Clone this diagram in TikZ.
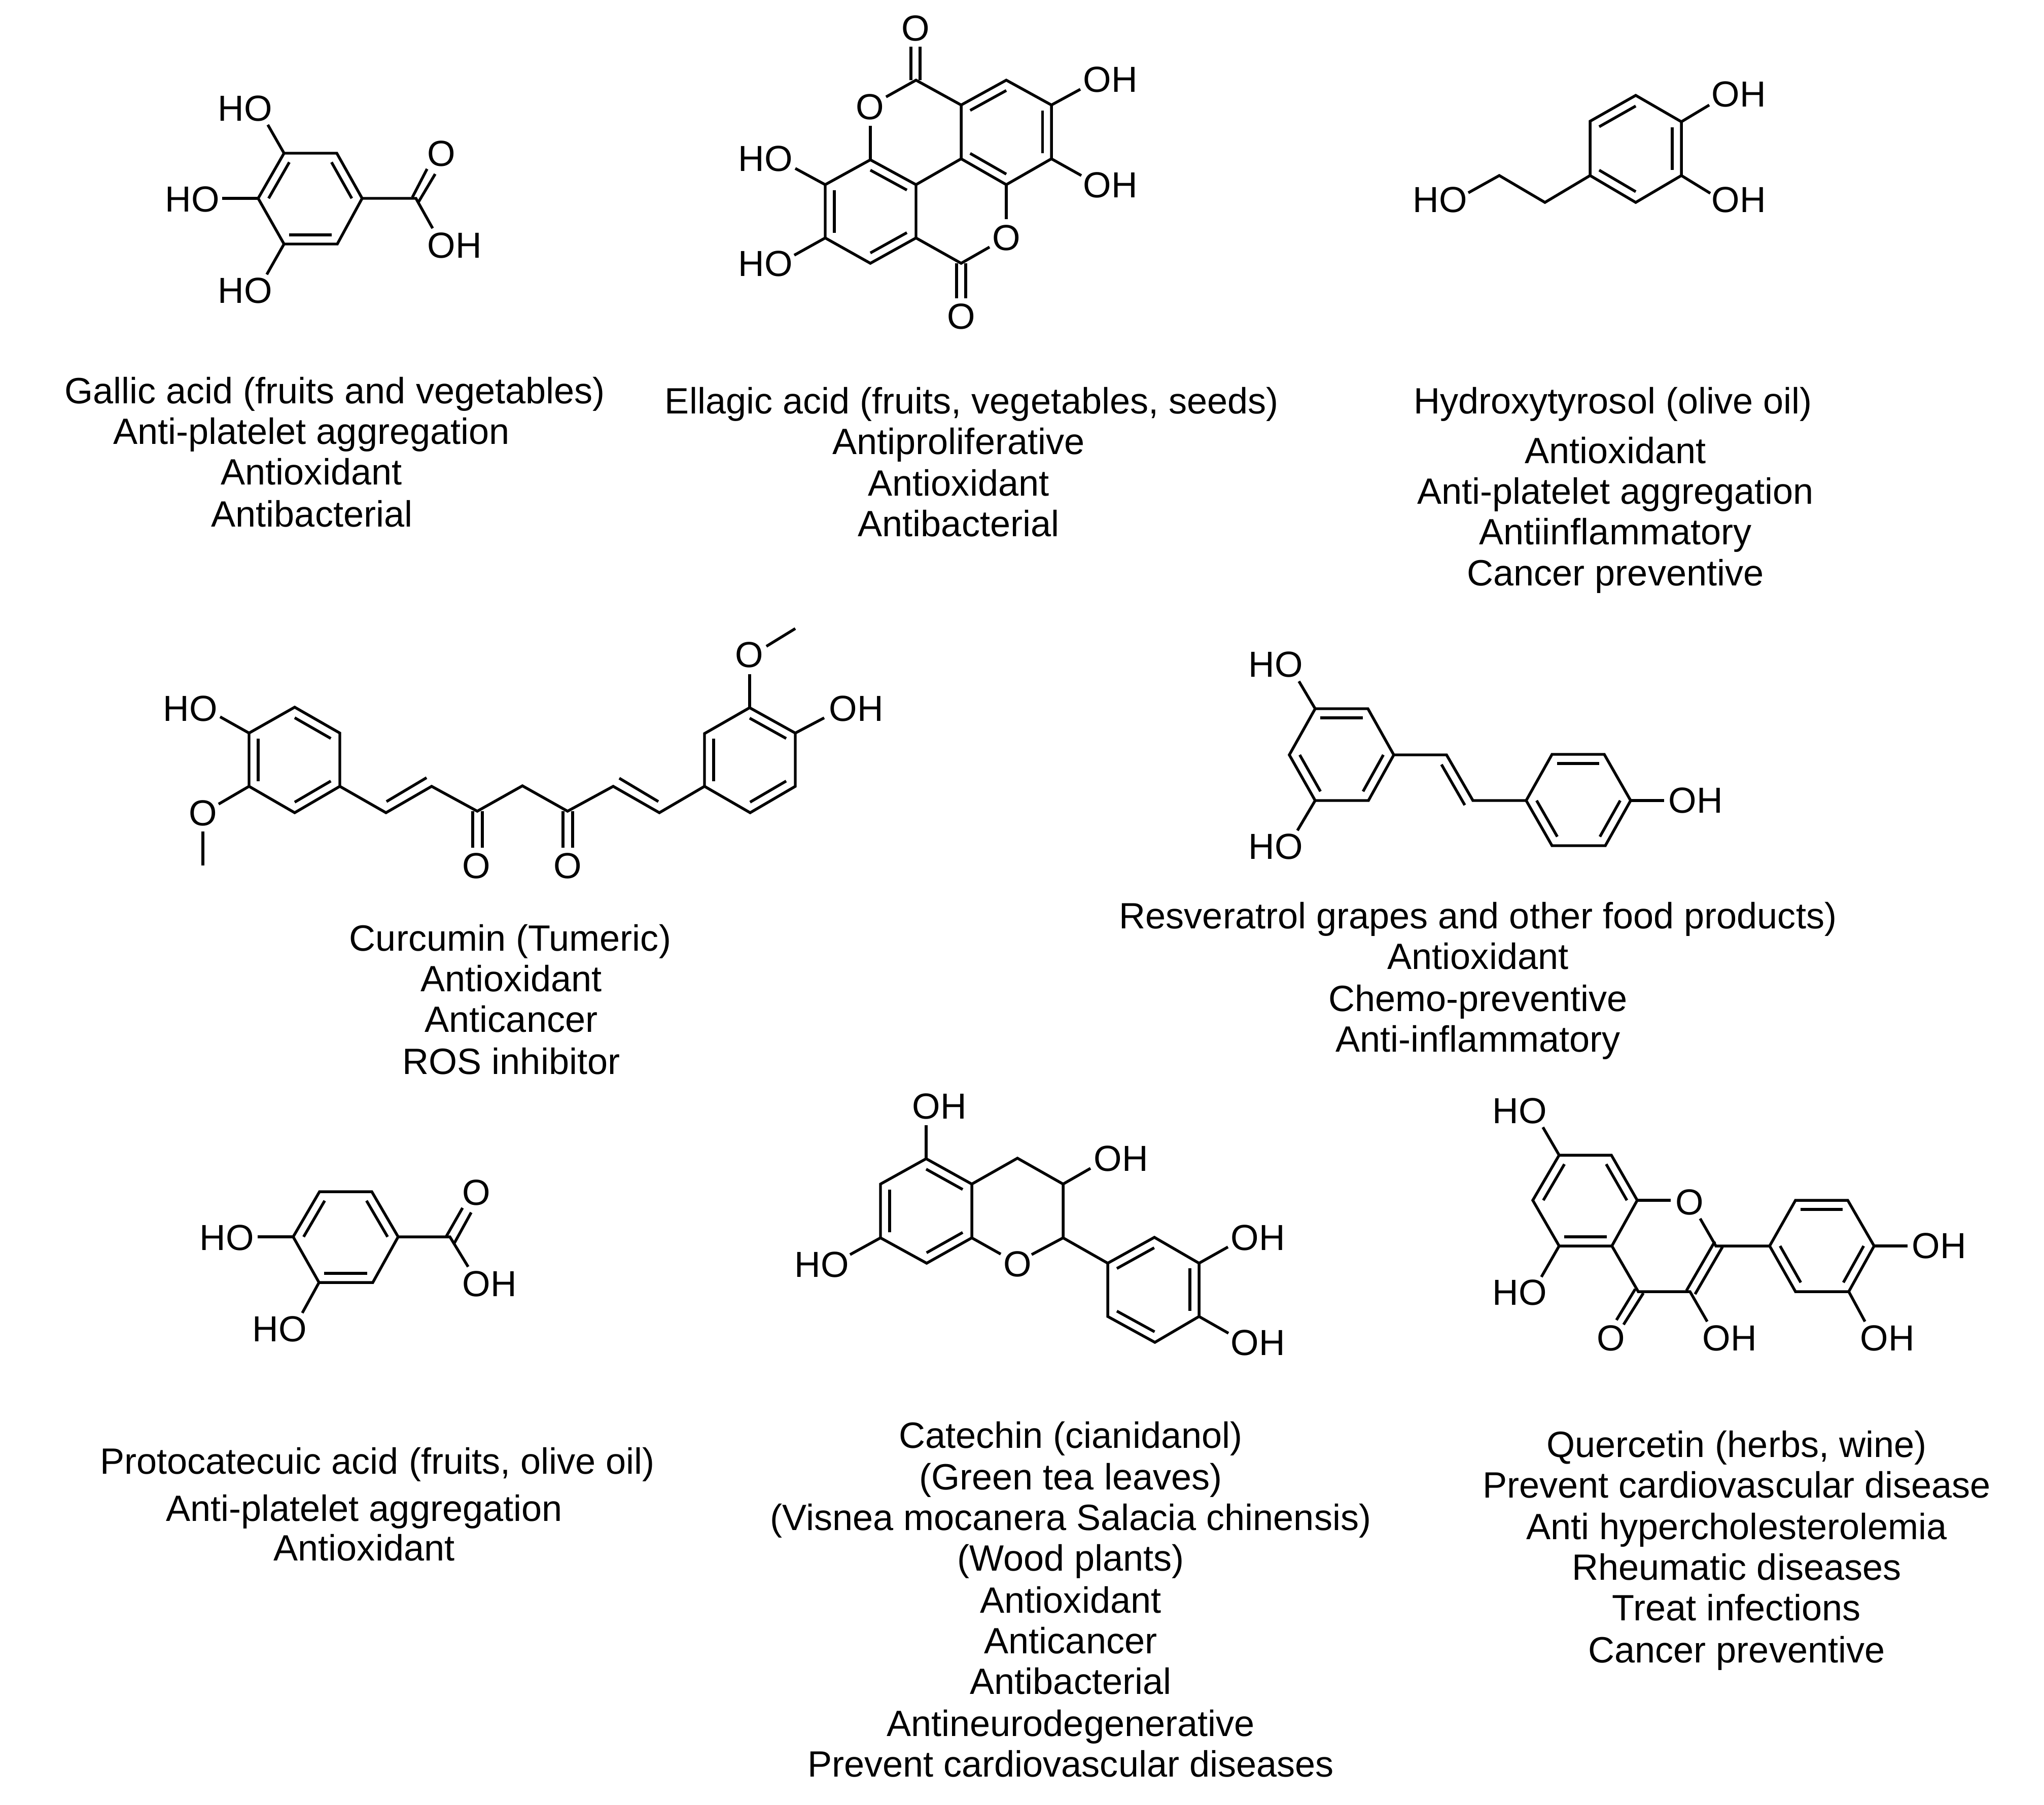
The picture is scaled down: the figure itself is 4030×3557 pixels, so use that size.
\documentclass[tikz,border=0pt]{standalone}
\usepackage{fontspec}
\setmainfont{Liberation Sans}
\usetikzlibrary{calc}
\tikzset{
  bond/.style={line width=1.55pt,black},
  atom/.style={inner sep=0pt,outer sep=0pt,font=\fontsize{20.3}{24}\selectfont},
  captext/.style={inner sep=0pt,outer sep=0pt,anchor=base,font=\fontsize{20.5}{24}\selectfont}
}
% atom coordinates
\newcommand\cc[3]{\coordinate (#1) at (#2,#3);}
% inner line of a ring double bond
\newcommand\dbl[3]{\draw[bond] ($(#1)!.8!(#2)$) -- ($(#1)!.8!(#3)$);}
% caption line
\newcommand\tl[4]{\node[captext] (#1) at (#2,#3+17) {#4};}
% atom label
\newcommand\lab[4]{\node[atom] (#1) at (#2,#3) {#4};}
\begin{document}
\begin{tikzpicture}[x=0.01cm,y=-0.01cm]
\useasboundingbox (0,0) rectangle (4030,3557);
% ---------- Gallic acid
\cc{ga}{509}{391}\cc{gb}{560}{302}\cc{gc}{664}{302}\cc{gd}{714}{391}\cc{ge}{665}{481}\cc{gf}{560}{481}\cc{gz}{612}{391}\cc{gk}{820}{391}
\draw[bond] (ga)--(gb)--(gc)--(gd)--(ge)--(gf)--cycle;
\dbl{gz}{ga}{gb}\dbl{gz}{gc}{gd}\dbl{gz}{ge}{gf}
\draw[bond] (gd)--(gk)--(853,450);
\draw[bond] (813,389)--(842,333);
\draw[bond] (824,400)--(858,343);
\draw[bond] (gb)--(528,246);
\draw[bond] (ga)--(438,391);
\draw[bond] (gf)--(526,541);
\lab{gho1}{483}{214}{HO}\lab{gho2}{379}{393}{HO}\lab{gho3}{483}{573}{HO}\lab{go}{870}{303}{O}\lab{goh}{896}{484}{OH}
\tl{g1}{660}{778}{Gallic acid (fruits and vegetables)}
\tl{g2}{614}{858}{Anti-platelet aggregation}
\tl{g3}{614}{938}{Antioxidant}
\tl{g4}{615}{1021}{Antibacterial}
% ---------- Ellagic acid
\cc{ea}{1806}{158}\cc{eb}{1895}{207}\cc{ec}{1984}{158}\cc{ed}{2073}{207}\cc{ee}{2073}{313}\cc{ef}{1984}{364}\cc{eg}{1895}{313}\cc{ey}{1984}{260}
\cc{eh}{1716}{315}\cc{ei}{1806}{364}\cc{ej}{1806}{469}\cc{ek}{1716}{519}\cc{el}{1627}{469}\cc{em}{1627}{364}\cc{en}{1895}{519}\cc{ez}{1716}{417}
\draw[bond] (eb)--(ec)--(ed)--(ee)--(ef)--(eg)--cycle;
\draw[bond] (eh)--(ei)--(ej)--(ek)--(el)--(em)--cycle;
\dbl{ey}{eb}{ec}\dbl{ey}{ed}{ee}\dbl{ey}{ef}{eg}
\dbl{ez}{eh}{ei}\dbl{ez}{ej}{ek}\dbl{ez}{el}{em}
\draw[bond] (eg)--(ei);
\draw[bond] (1747,191)--(ea)--(eb);
\draw[bond] (eh)--(1716,248);
\draw[bond] (ej)--(en)--(1951,487);
\draw[bond] (ef)--(1984,432);
\draw[bond] (1796,92)--(1796,158);
\draw[bond] (1814,92)--(1814,158);
\draw[bond] (1886,519)--(1886,588);
\draw[bond] (1904,519)--(1904,588);
\draw[bond] (ed)--(2130,176);
\draw[bond] (ee)--(2132,346);
\draw[bond] (em)--(1568,332);
\draw[bond] (el)--(1566,503);
\lab{eo1}{1715}{211}{O}\lab{eo2}{1984}{469}{O}\lab{eo3}{1805}{56}{O}\lab{eo4}{1895}{624}{O}
\lab{eoh1}{2189}{157}{OH}\lab{eoh2}{2189}{365}{OH}\lab{eho1}{1509}{313}{HO}\lab{eho2}{1509}{520}{HO}
\tl{e1}{1916}{798}{Ellagic acid (fruits, vegetables, seeds)}
\tl{e2}{1890}{878}{Antiproliferative}
\tl{e3}{1890}{960}{Antioxidant}
\tl{e4}{1890}{1040}{Antibacterial}
% ---------- Hydroxytyrosol
\cc{ha}{3225}{188}\cc{hb}{3315}{240}\cc{hc}{3315}{346}\cc{hd}{3225}{399}\cc{he}{3135}{346}\cc{hf}{3135}{239}\cc{hz}{3225}{293}\cc{hg}{3046}{399}\cc{hi}{2956}{346}
\draw[bond] (ha)--(hb)--(hc)--(hd)--(he)--(hf)--cycle;
\dbl{hz}{hf}{ha}\dbl{hz}{hb}{hc}\dbl{hz}{hd}{he}
\draw[bond] (he)--(hg)--(hi)--(2895,380);
\draw[bond] (hb)--(3370,207);
\draw[bond] (hc)--(3372,381);
\lab{hho}{2839}{394}{HO}\lab{hoh1}{3428}{186}{OH}\lab{hoh2}{3428}{394}{OH}
\tl{h1}{3180}{798}{Hydroxytyrosol (olive oil)}
\tl{h2}{3185}{896}{Antioxidant}
\tl{h3}{3185}{976}{Anti-platelet aggregation}
\tl{h4}{3185}{1056}{Antiinflammatory}
\tl{h5}{3185}{1137}{Cancer preventive}
% ---------- Curcumin
\cc{ca}{581}{1394}\cc{cb}{670}{1445}\cc{cc}{670}{1550}\cc{cd}{581}{1602}\cc{ce}{491}{1550}\cc{cf}{491}{1445}\cc{cz}{581}{1498}
\cc{cg}{761}{1602}\cc{ch}{851}{1550}\cc{ci}{941}{1599}\cc{cj}{1030}{1549}\cc{ck}{1119}{1599}\cc{cl}{1209}{1550}\cc{cm}{1300}{1602}
\cc{cn}{1478}{1395}\cc{co}{1568}{1445}\cc{cp}{1568}{1550}\cc{cq}{1479}{1602}\cc{cr}{1389}{1550}\cc{cs}{1389}{1446}\cc{cy}{1478}{1498}
\draw[bond] (ca)--(cb)--(cc)--(cd)--(ce)--(cf)--cycle;
\dbl{cz}{ca}{cb}\dbl{cz}{cc}{cd}\dbl{cz}{ce}{cf}
\draw[bond] (cn)--(co)--(cp)--(cq)--(cr)--(cs)--cycle;
\dbl{cy}{cn}{co}\dbl{cy}{cp}{cq}\dbl{cy}{cr}{cs}
\draw[bond] (cc)--(cg)--(ch)--(ci)--(cj)--(ck)--(cl)--(cm)--(cr);
\draw[bond] (762,1580)--(841,1533);
\draw[bond] (1221,1534)--(1298,1580);
\draw[bond] (932,1599)--(932,1671);
\draw[bond] (951,1599)--(951,1671);
\draw[bond] (1110,1599)--(1110,1671);
\draw[bond] (1129,1599)--(1129,1671);
\draw[bond] (co)--(1625,1415);
\draw[bond] (cn)--(1478,1329);
\draw[bond] (1511,1274)--(1568,1239);
\draw[bond] (cf)--(434,1413);
\draw[bond] (ce)--(431,1585);
\draw[bond] (400,1639)--(400,1706);
\lab{co1}{939}{1707}{O}\lab{co2}{1119}{1707}{O}\lab{coh}{1688}{1397}{OH}\lab{co3}{1477}{1291}{O}\lab{cho}{375}{1397}{HO}\lab{co4}{400}{1603}{O}
\tl{c1}{1006}{1857}{Curcumin (Tumeric)}
\tl{c2}{1008}{1937}{Antioxidant}
\tl{c3}{1008}{2017}{Anticancer}
\tl{c4}{1008}{2100}{ROS inhibitor}
% ---------- Resveratrol
\cc{ra}{2593}{1397}\cc{rb}{2697}{1397}\cc{rc}{2748}{1488}\cc{rd}{2698}{1578}\cc{re}{2593}{1578}\cc{rf}{2542}{1488}\cc{rz}{2645}{1488}
\cc{rg}{2852}{1488}\cc{rh}{2904}{1578}
\cc{ri}{3009}{1578}\cc{rj}{3060}{1487}\cc{rk}{3163}{1487}\cc{rl}{3215}{1578}\cc{rm}{3165}{1667}\cc{rn}{3060}{1667}\cc{ry}{3112}{1578}
\draw[bond] (ra)--(rb)--(rc)--(rd)--(re)--(rf)--cycle;
\dbl{rz}{ra}{rb}\dbl{rz}{rc}{rd}\dbl{rz}{re}{rf}
\draw[bond] (ri)--(rj)--(rk)--(rl)--(rm)--(rn)--cycle;
\dbl{ry}{rj}{rk}\dbl{ry}{rl}{rm}\dbl{ry}{rn}{ri}
\draw[bond] (rc)--(rg)--(rh)--(ri);
\draw[bond] (2842,1507)--(2888,1587);
\draw[bond] (rl)--(3281,1578);
\draw[bond] (ra)--(2561,1343);
\draw[bond] (re)--(2558,1637);
\lab{roh}{3343}{1578}{OH}\lab{rho1}{2515}{1310}{HO}\lab{rho2}{2515}{1669}{HO}
\tl{r1}{2914}{1813}{Resveratrol grapes and other food products)}
\tl{r2}{2914}{1893}{Antioxidant}
\tl{r3}{2914}{1976}{Chemo-preventive}
\tl{r4}{2914}{2056}{Anti-inflammatory}
% ---------- Protocatechuic acid
\cc{pa}{578}{2438}\cc{pb}{630}{2349}\cc{pc}{733}{2349}\cc{pd}{785}{2438}\cc{pe}{735}{2528}\cc{pf}{629}{2528}\cc{pz}{681}{2438}\cc{pk}{887}{2438}
\draw[bond] (pa)--(pb)--(pc)--(pd)--(pe)--(pf)--cycle;
\dbl{pz}{pa}{pb}\dbl{pz}{pc}{pd}\dbl{pz}{pe}{pf}
\draw[bond] (pd)--(pk)--(923,2497);
\draw[bond] (880,2437)--(912,2381);
\draw[bond] (896,2450)--(929,2390);
\draw[bond] (pa)--(508,2438);
\draw[bond] (pf)--(596,2588);
\lab{po}{939}{2351}{O}\lab{poh}{965}{2531}{OH}\lab{pho1}{447}{2440}{HO}\lab{pho2}{551}{2620}{HO}
\tl{p1}{744}{2888}{Protocatecuic acid (fruits, olive oil)}
\tl{p2}{718}{2981}{Anti-platelet aggregation}
\tl{p3}{718}{3059}{Antioxidant}
% ---------- Catechin
\cc{ka}{1826}{2284}\cc{kb}{1916}{2334}\cc{kc}{1916}{2440}\cc{kd}{1827}{2490}\cc{ke}{1736}{2440}\cc{kf}{1736}{2334}\cc{kz}{1826}{2387}
\cc{kg}{2006}{2283}\cc{kh}{2096}{2334}\cc{ki}{2096}{2440}
\cc{kj}{2184}{2490}\cc{kk}{2276}{2439}\cc{kl}{2364}{2490}\cc{km}{2364}{2595}\cc{kn}{2277}{2646}\cc{ko}{2184}{2595}\cc{ky}{2274}{2542}
\draw[bond] (ka)--(kb)--(kc)--(kd)--(ke)--(kf)--cycle;
\dbl{kz}{ka}{kb}\dbl{kz}{kc}{kd}\dbl{kz}{ke}{kf}
\draw[bond] (kj)--(kk)--(kl)--(km)--(kn)--(ko)--cycle;
\dbl{ky}{kj}{kk}\dbl{ky}{kl}{km}\dbl{ky}{kn}{ko}
\draw[bond] (kb)--(kg)--(kh)--(ki)--(kj);
\draw[bond] (kc)--(1973,2472);
\draw[bond] (ki)--(2034,2473);
\draw[bond] (ka)--(1826,2218);
\draw[bond] (kh)--(2150,2303);
\draw[bond] (kl)--(2421,2458);
\draw[bond] (km)--(2422,2628);
\draw[bond] (ke)--(1676,2473);
\lab{ko1}{2006}{2492}{O}\lab{koh1}{1852}{2181}{OH}\lab{koh2}{2210}{2284}{OH}\lab{koh3}{2480}{2440}{OH}\lab{koh4}{2480}{2647}{OH}\lab{kho}{1620}{2493}{HO}
\tl{k1}{2111}{2837}{Catechin (cianidanol)}
\tl{k2}{2111}{2919}{(Green tea leaves)}
\tl{k3}{2111}{2999}{(Visnea mocanera Salacia chinensis)}
\tl{k4}{2111}{3079}{(Wood plants)}
\tl{k5}{2111}{3162}{Antioxidant}
\tl{k6}{2111}{3242}{Anticancer}
\tl{k7}{2111}{3322}{Antibacterial}
\tl{k8}{2111}{3405}{Antineurodegenerative}
\tl{k9}{2111}{3485}{Prevent cardiovascular diseases}
% ---------- Quercetin
\cc{qa}{3074}{2277}\cc{qb}{3177}{2277}\cc{qc}{3228}{2366}\cc{qd}{3178}{2456}\cc{qe}{3074}{2456}\cc{qf}{3022}{2366}\cc{qz}{3126}{2366}
\cc{qg}{3383}{2456}\cc{qh}{3332}{2546}\cc{qi}{3230}{2546}
\cc{qj}{3489}{2456}\cc{qk}{3540}{2366}\cc{ql}{3643}{2366}\cc{qm}{3695}{2456}\cc{qn}{3645}{2546}\cc{qo}{3540}{2546}\cc{qy}{3592}{2456}
\draw[bond] (qa)--(qb)--(qc)--(qd)--(qe)--(qf)--cycle;
\dbl{qz}{qa}{qf}\dbl{qz}{qb}{qc}\dbl{qz}{qd}{qe}
\draw[bond] (qj)--(qk)--(ql)--(qm)--(qn)--(qo)--cycle;
\dbl{qy}{qk}{ql}\dbl{qy}{qm}{qn}\dbl{qy}{qo}{qj}
\draw[bond] (qc)--(3294,2366);
\draw[bond] (3352,2402)--(qg)--(qj);
\draw[bond] (qd)--(qi)--(qh)--(3366,2605);
\draw[bond] (3381,2447)--(3325,2544);
\draw[bond] (3396,2458)--(3342,2551);
\draw[bond] (3224,2541)--(3187,2602);
\draw[bond] (3240,2549)--(3201,2611);
\draw[bond] (qa)--(3042,2222);
\draw[bond] (qe)--(3039,2517);
\draw[bond] (qm)--(3761,2456);
\draw[bond] (qn)--(3677,2605);
\lab{qo1}{3331}{2370}{O}\lab{qo2}{3176}{2638}{O}\lab{qoh1}{3410}{2638}{OH}\lab{qho1}{2996}{2190}{HO}\lab{qho2}{2996}{2548}{HO}\lab{qoh2}{3823}{2456}{OH}\lab{qoh3}{3721}{2638}{OH}
\tl{q1}{3424}{2855}{Quercetin (herbs, wine)}
\tl{q2}{3424}{2935}{Prevent cardiovascular disease}
\tl{q3}{3424}{3017}{Anti hypercholesterolemia}
\tl{q4}{3424}{3097}{Rheumatic diseases}
\tl{q5}{3424}{3177}{Treat infections}
\tl{q6}{3424}{3260}{Cancer preventive}
\end{tikzpicture}
\end{document}
